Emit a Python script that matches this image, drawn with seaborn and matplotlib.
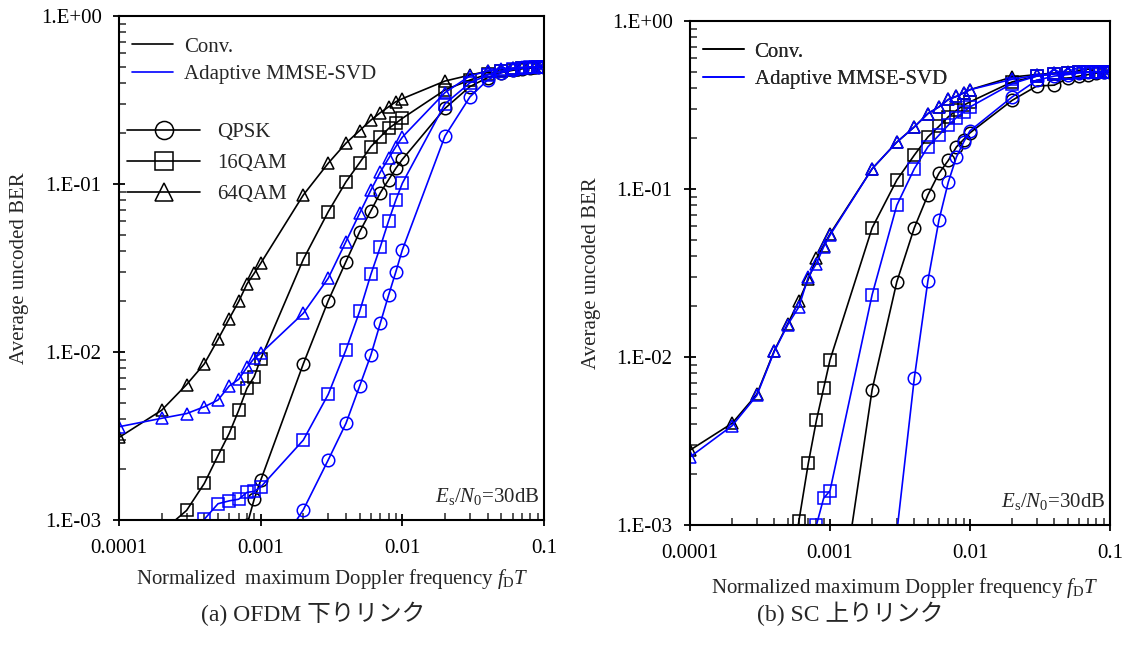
import numpy as np
import seaborn as sns
import matplotlib.pyplot as plt
from matplotlib.lines import Line2D
from matplotlib.ticker import FuncFormatter, LogLocator, NullFormatter

nan = np.nan

# normalized maximum Doppler frequency fD*T (same grid for every curve)
fd = [0.0001, 0.0002, 0.0003, 0.0004, 0.0005, 0.0006, 0.0007, 0.0008, 0.0009,
      0.001, 0.002, 0.003, 0.004, 0.005, 0.006, 0.007, 0.008, 0.009,
      0.01, 0.02, 0.03, 0.04, 0.05, 0.06, 0.07, 0.08, 0.09, 0.1]

# -------------------------------
# (a) OFDM downlink
# -------------------------------
ofdm_conv_qpsk = [nan, nan, nan, nan, nan, nan, nan, 9.3e-4, 1.33e-3,
                  1.72e-3, 8.5e-3, 2.02e-2, 3.45e-2, 5.2e-2, 6.93e-2, 8.87e-2, 0.106, 0.124,
                  0.14, 0.282, 0.38, 0.43, 0.46, 0.475, 0.485, 0.49, 0.495, 0.498]
ofdm_conv_16qam = [nan, 8.5e-4, 1.14e-3, 1.65e-3, 2.42e-3, 3.28e-3, 4.5e-3, 6.08e-3, 7.13e-3,
                   9.08e-3, 3.56e-2, 6.84e-2, 0.103, 0.134, 0.167, 0.191, 0.214, 0.23,
                   0.246, 0.363, 0.416, 0.45, 0.47, 0.48, 0.488, 0.492, 0.495, 0.497]
ofdm_conv_64qam = [3.1e-3, 4.5e-3, 6.4e-3, 8.5e-3, 1.19e-2, 1.58e-2, 2.0e-2, 2.54e-2, 2.94e-2,
                   3.37e-2, 8.6e-2, 0.133, 0.175, 0.208, 0.24, 0.266, 0.288, 0.309,
                   0.322, 0.41, 0.445, 0.47, 0.48, 0.488, 0.492, 0.495, 0.497, 0.498]
ofdm_ada_qpsk = [nan, nan, nan, nan, nan, nan, nan, nan, nan,
                 4.7e-4, 1.15e-3, 2.28e-3, 3.76e-3, 6.28e-3, 9.6e-3, 1.49e-2, 2.18e-2, 3.0e-2,
                 4.05e-2, 0.193, 0.33, 0.416, 0.46, 0.48, 0.49, 0.495, 0.498, 0.5]
ofdm_ada_16qam = [nan, nan, 8.0e-4, 1.01e-3, 1.25e-3, 1.30e-3, 1.33e-3, 1.46e-3, 1.48e-3,
                  1.57e-3, 2.99e-3, 5.6e-3, 1.03e-2, 1.75e-2, 2.9e-2, 4.24e-2, 6.03e-2, 8.03e-2,
                  0.101, 0.30, 0.40, 0.445, 0.47, 0.483, 0.49, 0.494, 0.497, 0.498]
ofdm_ada_64qam = [3.59e-3, 4.03e-3, 4.3e-3, 4.72e-3, 5.18e-3, 6.28e-3, 6.88e-3, 8.1e-3, 9.17e-3,
                  9.8e-3, 1.7e-2, 2.75e-2, 4.54e-2, 6.7e-2, 9.2e-2, 0.118, 0.142, 0.167,
                  0.19, 0.35, 0.44, 0.47, 0.485, 0.49, 0.495, 0.497, 0.498, 0.5]

# -------------------------------
# (b) SC uplink
# -------------------------------
sc_conv_qpsk = [nan, nan, nan, nan, nan, nan, nan, nan, nan,
                1.3e-4, 6.4e-3, 2.8e-2, 5.87e-2, 9.2e-2, 0.124, 0.148, 0.178, 0.197,
                0.216, 0.337, 0.41, 0.415, 0.456, 0.47, 0.48, 0.49, 0.495, 0.498]
sc_conv_16qam = [nan, nan, nan, nan, 4.0e-4, 1.06e-3, 2.33e-3, 4.2e-3, 6.5e-3,
                 9.6e-3, 5.87e-2, 0.113, 0.159, 0.204, 0.236, 0.269, 0.294, 0.315,
                 0.33, 0.434, 0.47, 0.485, 0.49, 0.495, 0.497, 0.498, 0.499, 0.5]
sc_conv_64qam = [2.79e-3, 4.03e-3, 6.0e-3, 1.09e-2, 1.58e-2, 2.16e-2, 2.9e-2, 3.86e-2, 4.6e-2,
                 5.4e-2, 0.132, 0.19, 0.234, 0.281, 0.308, 0.341, 0.356, 0.373,
                 0.39, 0.464, 0.48, 0.49, 0.495, 0.497, 0.498, 0.499, 0.5, 0.5]
sc_ada_qpsk = [nan, nan, nan, nan, nan, nan, nan, nan, nan,
               nan, nan, 9.0e-4, 7.46e-3, 2.83e-2, 6.52e-2, 0.11, 0.155, 0.19,
               0.222, 0.353, 0.444, 0.47, 0.48, 0.49, 0.495, 0.497, 0.498, 0.5]
sc_ada_16qam = [nan, nan, nan, nan, nan, nan, 5.0e-4, 1.0e-3, 1.44e-3,
                1.6e-3, 2.35e-2, 8.0e-2, 0.132, 0.178, 0.209, 0.24, 0.266, 0.288,
                0.308, 0.424, 0.47, 0.485, 0.49, 0.495, 0.497, 0.498, 0.499, 0.5]
sc_ada_64qam = [2.54e-3, 3.9e-3, 5.9e-3, 1.08e-2, 1.56e-2, 1.99e-2, 3.0e-2, 3.6e-2, 4.52e-2,
                5.31e-2, 0.132, 0.19, 0.234, 0.281, 0.308, 0.341, 0.356, 0.373,
                0.39, 0.45, 0.475, 0.488, 0.493, 0.496, 0.498, 0.499, 0.5, 0.5]

xtick_values = [0.0001, 0.001, 0.01, 0.1]
xtick_labels = ['0.0001', '0.001', '0.01', '0.1']
ytick_values = [1e-3, 1e-2, 1e-1, 1e0]

scheme_names = ['Conv.', 'Adaptive MMSE-SVD']
scheme_colors = ['black', '#0000ff']
mod_names = ['QPSK', '16QAM', '64QAM']
mod_markers = ['o', 's', '^']

xlabels = ['Normalized  maximum Doppler frequency $f_{\\mathrm{D}}T$',
           'Normalized maximum Doppler frequency $f_{\\mathrm{D}}T$']
captions = ['(a) OFDM 下りリンク', '(b) SC 上りリンク']
snr_text = '$E_{\\mathrm{s}}/N_{0}$=30dB'

# -------------------------------
# Style
# -------------------------------
sns.set_theme(style='white')
plt.rcParams['font.family'] = ['Liberation Serif', 'Noto Sans CJK JP']
plt.rcParams['mathtext.fontset'] = 'custom'
plt.rcParams['mathtext.rm'] = 'Liberation Serif'
plt.rcParams['mathtext.it'] = 'Liberation Serif:italic'
plt.rcParams['axes.edgecolor'] = 'black'
plt.rcParams['axes.linewidth'] = 1.5

FS = 15

fig = plt.figure(figsize=(11.33, 6.46), dpi=100)
ax1 = fig.add_axes([119 / 1133, 1 - 520 / 646, 425 / 1133, 504 / 646])
ax2 = fig.add_axes([690 / 1133, 1 - 525 / 646, 420 / 1133, 504 / 646])

panels = [
    (ax1, [[ofdm_conv_qpsk, ofdm_conv_16qam, ofdm_conv_64qam],
           [ofdm_ada_qpsk, ofdm_ada_16qam, ofdm_ada_64qam]]),
    (ax2, [[sc_conv_qpsk, sc_conv_16qam, sc_conv_64qam],
           [sc_ada_qpsk, sc_ada_16qam, sc_ada_64qam]]),
]
legend_anchor = [(0.01, 0.975), (0.01, 0.975)]

for i, (ax, series) in enumerate(panels):
    for s, color in enumerate(scheme_colors):
        for m, marker in enumerate(mod_markers):
            sns.lineplot(x=fd, y=series[s][m], ax=ax, color=color, marker=marker,
                         markersize=9, markerfacecolor='none', markeredgecolor=color,
                         markeredgewidth=1.1, linewidth=1.2, legend=False)

    ax.set_xscale('log')
    ax.set_yscale('log')
    ax.set_xlim(1e-4, 1e-1)
    ax.set_ylim(1e-3, 1e0)
    ax.set_xticks(xtick_values)
    ax.set_xticklabels(xtick_labels)
    ax.set_yticks(ytick_values)
    ax.yaxis.set_major_formatter(FuncFormatter(lambda v, _: '1.E%+03d' % round(np.log10(v))))
    ax.xaxis.set_minor_locator(LogLocator(base=10, subs=np.arange(2, 10)))
    ax.yaxis.set_minor_locator(LogLocator(base=10, subs=np.arange(2, 10)))
    ax.xaxis.set_minor_formatter(NullFormatter())
    ax.yaxis.set_minor_formatter(NullFormatter())
    ax.tick_params(which='major', direction='inout', length=9, width=1.3,
                   labelsize=FS, bottom=True, left=True, colors='black')
    ax.tick_params(which='minor', direction='in', length=5, width=1.1,
                   bottom=True, left=True)
    ax.tick_params(axis='x', which='major', pad=9)
    ax.tick_params(axis='y', which='major', pad=8)
    for sp in ax.spines.values():
        sp.set_visible(True)
        sp.set_color('black')

    ax.set_xlabel(xlabels[i], fontsize=FS)
    ax.set_ylabel('Average uncoded BER', fontsize=FS)
    ax.yaxis.set_label_coords(-0.212, 0.5)
    ax.text(0.99, 0.025, snr_text, transform=ax.transAxes, ha='right', va='bottom', fontsize=FS)

    # line legend (scheme)
    line_handles = [Line2D([], [], color=c, linewidth=1.2) for c in scheme_colors]
    leg = ax.legend(line_handles, scheme_names, loc='upper left', bbox_to_anchor=legend_anchor[i],
                    frameon=False, fontsize=FS, handlelength=2.0, handletextpad=0.5,
                    labelspacing=0.4, borderaxespad=0)
    ax.add_artist(leg)

ax1.xaxis.set_label_coords(0.503, -0.093)
ax2.xaxis.set_label_coords(0.512, -0.101)

# marker legend (modulation), left panel only
mod_handles = [Line2D([], [], color='black', linewidth=1.2, marker=mk, markersize=13,
                      markerfacecolor='none', markeredgewidth=1.1) for mk in mod_markers]
ax1.legend(mod_handles, mod_names, loc='upper left', bbox_to_anchor=(0.0, 0.805),
           frameon=False, fontsize=FS, handlelength=3.5, handletextpad=0.8,
           labelspacing=0.55, borderaxespad=0)

fig.text(313 / 1133, 1 - 614 / 646, captions[0], ha='center', va='center', fontsize=17)
fig.text(850 / 1133, 1 - 614 / 646, captions[1], ha='center', va='center', fontsize=17)

fig.savefig('out.png', dpi=100, facecolor='white')
